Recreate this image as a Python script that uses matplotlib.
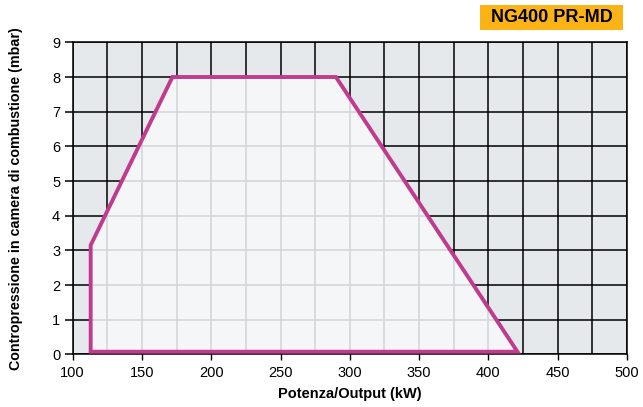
import numpy as np
import matplotlib
matplotlib.use("Agg")
import matplotlib.pyplot as plt
from matplotlib.patches import Polygon, Rectangle

plt.rcParams['font.family'] = ['Liberation Sans', 'DejaVu Sans']

# working field of the burner (kW, mbar)
output_kw = [113, 113, 172, 290, 421]
pressure_mbar = [0.08, 3.15, 8.0, 8.0, 0.08]

x_ticks = [100, 150, 200, 250, 300, 350, 400, 450, 500]
y_ticks = [0, 1, 2, 3, 4, 5, 6, 7, 8, 9]
title = "NG400 PR-MD"

outer_bg = '#e6e9ec'
inner_bg = '#f5f6f8'
inner_grid = '#d3d4d6'
pink = '#c03a8e'
orange = '#fbb316'

fig = plt.figure(figsize=(6.43, 4.07), dpi=100)
ax = fig.add_axes([0.113, 0.129, 0.862, 0.767])
ax.set_facecolor(outer_bg)
ax.set_xlim(100, 500)
ax.set_ylim(0, 9)

ax.set_xticks(x_ticks)
ax.set_xticks(np.arange(100, 501, 25), minor=True)
ax.set_yticks(y_ticks)
ax.set_axisbelow(True)
ax.grid(which='both', color='black', lw=1.1)
ax.tick_params(axis='x', which='major', direction='out', length=4, width=1, labelsize=10.5, pad=4)
ax.tick_params(axis='x', which='minor', length=0)
ax.tick_params(axis='y', direction='out', length=6, width=1.1, labelsize=10.5, pad=3)
for s in ax.spines.values():
    s.set_color('black')
    s.set_linewidth(1.1)

# light fill inside the field, with light grid lines clipped to it
pts = np.column_stack([output_kw, pressure_mbar])
field = Polygon(pts, closed=True, facecolor=inner_bg, edgecolor='none', zorder=1)
ax.add_patch(field)
for xv in np.arange(125, 500, 25):
    ln = ax.axvline(xv, color=inner_grid, lw=1.1, zorder=1.5)
    ln.set_clip_path(field)
for yv in range(1, 9):
    ln = ax.axhline(yv, color=inner_grid, lw=1.1, zorder=1.5)
    ln.set_clip_path(field)

outline = Polygon(pts, closed=True, facecolor='none', edgecolor=pink, lw=2.8,
                  joinstyle='miter', zorder=3)
ax.add_patch(outline)

ax.set_xlabel("Potenza/Output (kW)", fontsize=10.5, fontweight='bold', labelpad=5)
ax.set_ylabel("Contropressione in camera di combustione (mbar)", fontsize=10.3,
              fontweight='bold', labelpad=21)

# title badge
fig.patches.append(Rectangle((480 / 643, 1 - 30 / 407), 143 / 643, 25 / 407,
                             transform=fig.transFigure, facecolor=orange, edgecolor='none'))
fig.text(551.5 / 643, 1 - 18 / 407, title, fontsize=13, fontweight='bold',
         ha='center', va='center')

fig.savefig('out.png', dpi=100)
